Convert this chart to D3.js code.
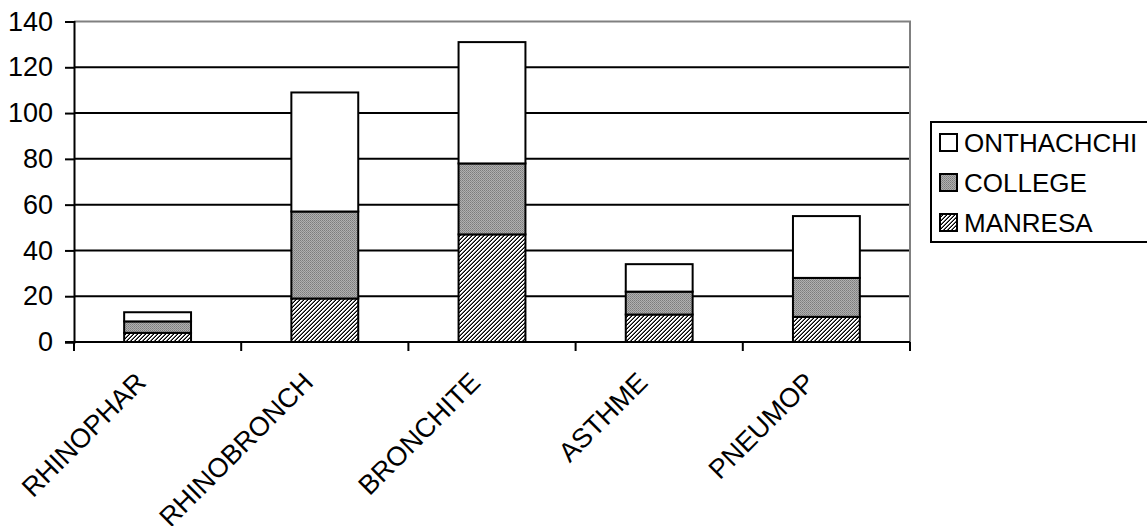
<!DOCTYPE html>
<html>
<head>
<meta charset="utf-8">
<script src="https://cdn.jsdelivr.net/npm/d3@7"></script>
<style>
  html, body { margin: 0; padding: 0; background: #fff; }
  svg { display: block; }
  text { font-family: Arial, "Liberation Sans", sans-serif; fill: #000; }
</style>
</head>
<body>
<svg id="chart" width="1147" height="526"></svg>
<script>
// Cases per illness, stacked by site
const categories = ["RHINOPHAR", "RHINOBRONCH", "BRONCHITE", "ASTHME", "PNEUMOP"];
const manresa    = [4, 19, 47, 12, 11];
const college    = [5, 38, 31, 10, 17];
const onthachchi = [4, 52, 53, 12, 27];
const seriesNames = ["MANRESA", "COLLEGE", "ONTHACHCHI"];
const yTicks = [0, 20, 40, 60, 80, 100, 120, 140];

const svg = d3.select("#chart");
const plot = { left: 74, right: 910, top: 21.5, bottom: 342 };
const AXIS_FONT = 27;
const LEGEND_FONT = 26;

// Fill patterns
const defs = svg.append("defs");
const hatch = defs.append("pattern").attr("id", "pat-manresa")
  .attr("patternUnits", "userSpaceOnUse").attr("width", 4).attr("height", 4);
hatch.append("rect").attr("width", 4).attr("height", 4).attr("fill", "#fff");
[[0,3],[1,2],[2,1],[3,0]].forEach(([px, py]) =>
  hatch.append("rect").attr("x", px).attr("y", py).attr("width", 1).attr("height", 1).attr("fill", "#000"));
[[0,2],[1,1],[2,0],[3,3]].forEach(([px, py]) =>
  hatch.append("rect").attr("x", px).attr("y", py).attr("width", 1).attr("height", 1).attr("fill", "#6a6a6a"));

const dots = defs.append("pattern").attr("id", "pat-college")
  .attr("patternUnits", "userSpaceOnUse").attr("width", 2).attr("height", 2);
dots.append("rect").attr("width", 2).attr("height", 2).attr("fill", "#b0b0b0");
dots.append("rect").attr("width", 1).attr("height", 1).attr("fill", "#7c7c7c");
dots.append("rect").attr("x", 1).attr("y", 1).attr("width", 1).attr("height", 1).attr("fill", "#8c8c8c");

const fills = { MANRESA: "url(#pat-manresa)", COLLEGE: "url(#pat-college)", ONTHACHCHI: "#fff" };

const x = d3.scaleBand().domain(categories).range([plot.left, plot.right]).paddingInner(0.6).paddingOuter(0.3);
const xEdges = d3.scaleLinear().domain([0, categories.length]).range([plot.left, plot.right]);
const y = d3.scaleLinear().domain([0, 140]).range([plot.bottom, plot.top]);

// Gridlines
svg.append("g").selectAll("line").data(yTicks.filter(t => t > 0 && t < 140)).join("line")
  .attr("x1", plot.left).attr("x2", plot.right)
  .attr("y1", d => y(d)).attr("y2", d => y(d))
  .attr("stroke", "#000").attr("stroke-width", 2);

// Plot border (top and right, grey)
svg.append("path")
  .attr("d", `M${plot.left},${y(140)}H${plot.right}V${plot.bottom}`)
  .attr("fill", "none").attr("stroke", "#808080").attr("stroke-width", 2);

// Stacked bars
const rows = categories.map((c, i) => ({ cat: c, MANRESA: manresa[i], COLLEGE: college[i], ONTHACHCHI: onthachchi[i] }));
const stacked = d3.stack().keys(seriesNames)(rows);
svg.append("g").selectAll("g").data(stacked).join("g")
  .attr("fill", d => fills[d.key])
  .selectAll("rect").data(d => d).join("rect")
  .attr("x", d => x(d.data.cat))
  .attr("width", x.bandwidth())
  .attr("y", d => y(d[1]))
  .attr("height", d => y(d[0]) - y(d[1]))
  .attr("stroke", "#000").attr("stroke-width", 2);

// Y axis
const yAxis = svg.append("g").attr("transform", `translate(${plot.left},0)`)
  .call(d3.axisLeft(y).tickValues(yTicks).tickSize(9).tickPadding(12).tickFormat(d3.format("d")));
yAxis.select(".domain").attr("stroke", "#000").attr("stroke-width", 2);
yAxis.selectAll(".tick line").attr("stroke", "#000").attr("stroke-width", 2);
yAxis.selectAll("text").attr("font-size", AXIS_FONT).attr("font-family", "Arial, 'Liberation Sans', sans-serif");

// X axis: baseline plus ticks between categories
svg.append("line").attr("x1", plot.left - 9).attr("x2", plot.right)
  .attr("y1", plot.bottom).attr("y2", plot.bottom).attr("stroke", "#000").attr("stroke-width", 2);
svg.append("g").selectAll("line").data(d3.range(categories.length + 1)).join("line")
  .attr("x1", d => xEdges(d)).attr("x2", d => xEdges(d))
  .attr("y1", plot.bottom).attr("y2", plot.bottom + 9)
  .attr("stroke", "#000").attr("stroke-width", 2);

svg.append("g").selectAll("text").data(categories).join("text")
  .attr("transform", d => `translate(${x(d) + x.bandwidth() / 2 - 10},${plot.bottom + 42}) rotate(-45)`)
  .attr("text-anchor", "end")
  .attr("font-size", AXIS_FONT)
  .text(d => d);

// Legend
const legend = svg.append("g").attr("transform", "translate(931,122)");
legend.append("rect").attr("width", 240).attr("height", 120)
  .attr("fill", "#fff").attr("stroke", "#000").attr("stroke-width", 2);
const legendOrder = ["ONTHACHCHI", "COLLEGE", "MANRESA"];
const item = legend.selectAll("g").data(legendOrder).join("g")
  .attr("transform", (d, i) => `translate(9,${12 + i * 40})`);
item.append("rect").attr("width", 17).attr("height", 17)
  .attr("fill", d => fills[d]).attr("stroke", "#000").attr("stroke-width", 2);
item.append("text").attr("x", 24).attr("y", 18).attr("font-size", LEGEND_FONT).text(d => d);
</script>
</body>
</html>
